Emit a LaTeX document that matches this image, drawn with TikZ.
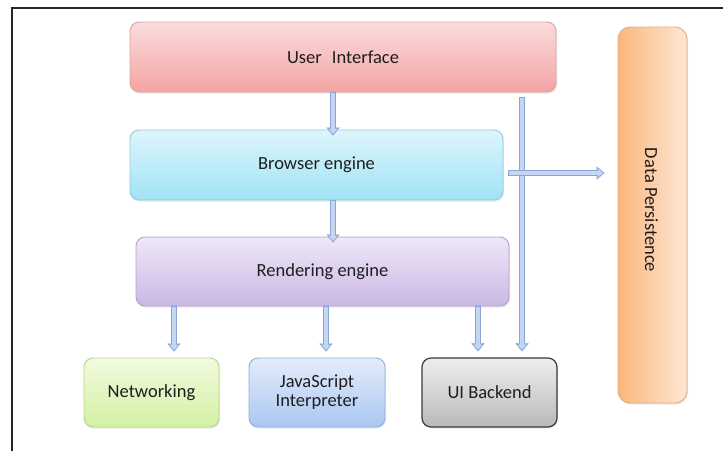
\documentclass[tikz,border=0pt]{standalone}
\usepackage{fontspec}
\setmainfont{Carlito}
\usetikzlibrary{arrows.meta,shadows}
\definecolor{txt}{HTML}{1E1E1E}
\definecolor{arrowborder}{HTML}{88A5D6}
\definecolor{arrowfill}{HTML}{C4D6F2}
\definecolor{uiT}{HTML}{FBDCDC}\definecolor{uiB}{HTML}{F4A3A3}\definecolor{uiD}{HTML}{DFA5A5}
\definecolor{beT}{HTML}{DDF5FC}\definecolor{beB}{HTML}{A0E3F6}\definecolor{beD}{HTML}{98C8DD}
\definecolor{reT}{HTML}{EFE8F7}\definecolor{reB}{HTML}{CAB7E5}\definecolor{reD}{HTML}{B3A1CF}
\definecolor{neT}{HTML}{F2FBDF}\definecolor{neB}{HTML}{D3F0A4}\definecolor{neD}{HTML}{BBD38B}
\definecolor{jsT}{HTML}{E4ECFB}\definecolor{jsB}{HTML}{AAC7F1}\definecolor{jsD}{HTML}{8EAFDD}
\definecolor{ubT}{HTML}{EEEEEE}\definecolor{ubB}{HTML}{B9B9B9}\definecolor{ubD}{HTML}{3A3A3A}
\definecolor{dpL}{HTML}{FBB67C}\definecolor{dpR}{HTML}{FDE7D5}\definecolor{dpD}{HTML}{E0AE86}
\tikzset{
  box/.style={rounded corners=9pt, draw, line width=0.9pt, text=txt, align=center,
    font=\fontsize{18.5}{20}\selectfont, inner sep=0pt,
    drop shadow={opacity=0.18, shadow xshift=1pt, shadow yshift=-1.5pt}},
  fatout/.style={draw=arrowborder, line width=6.4pt,
    -{Triangle[length=8pt,width=13pt,line width=0.1pt]}},
  fatin/.style={draw=arrowfill, line width=3.6pt, shorten >=1.6pt, shorten <=0.4pt,
    -{Triangle[length=5.2pt,width=8.8pt,line width=0.1pt]}},
}
\newcommand{\fatarrow}[2]{%
  \draw[fatout] (#1) -- (#2);
  \draw[fatin] (#1) -- (#2);}
\begin{document}
\begin{tikzpicture}[x=1pt,y=-1pt]
\useasboundingbox (0,0) rectangle (723,451);
\fill[white] (0,0) rectangle (723,451);
\draw[line width=1.4pt, color=black!85] (12,451) -- (12,8) -- (723,8);

\node[box, draw=uiD, top color=uiT, bottom color=uiB, minimum width=426pt, minimum height=70pt]
  (UI) at (343,57) {User\hspace{0.55em}Interface};
\node[box, draw=beD, top color=beT, bottom color=beB, minimum width=373pt, minimum height=70pt]
  (BE) at (316.5,165) {Browser engine};
\node[box, draw=reD, top color=reT, bottom color=reB, minimum width=373pt, minimum height=69pt]
  (RE) at (322.5,271.5) {Rendering engine};
\node[box, draw=neD, top color=neT, bottom color=neB, minimum width=135pt, minimum height=69pt]
  (NET) at (151.5,392.5) {Networking};
\node[box, draw=jsD, top color=jsT, bottom color=jsB, minimum width=136pt, minimum height=69pt]
  (JS) at (317,392.5) {JavaScript\\[-1pt]Interpreter};
\node[box, draw=ubD, line width=1.2pt, top color=ubT, bottom color=ubB, minimum width=135pt, minimum height=69pt]
  (UB) at (489.5,392.5) {UI Backend};
\node[box, draw=dpD, left color=dpL, right color=dpR, minimum width=69pt, minimum height=376pt, rounded corners=12pt]
  (DP) at (652.5,215) {};
\node[text=txt, font=\fontsize{18.5}{20}\selectfont, rotate=-90] (DPT) at (651.5,210) {Data Persistence};

% connectors
\coordinate (a1) at ([xshift=-10pt]UI.south);
\coordinate (a2) at ([xshift=16.5pt,yshift=-6pt]BE.north);
\fatarrow{a1}{a2}
\coordinate (b1) at ([xshift=16.5pt]BE.south);
\coordinate (b2) at ([xshift=10.5pt,yshift=-6pt]RE.north);
\fatarrow{b1}{b2}
\coordinate (c1) at ([xshift=-148.5pt]RE.south);
\coordinate (c2) at ([xshift=22.5pt,yshift=6pt]NET.north);
\fatarrow{c1}{c2}
\coordinate (d1) at ([xshift=3.5pt]RE.south);
\coordinate (d2) at ([xshift=9pt,yshift=6pt]JS.north);
\fatarrow{d1}{d2}
\coordinate (e1) at ([xshift=155.5pt]RE.south);
\coordinate (e2) at ([xshift=-11.5pt,yshift=6pt]UB.north);
\fatarrow{e1}{e2}
\coordinate (f1) at ([xshift=179pt,yshift=-5pt]UI.south);
\coordinate (f2) at ([xshift=32.5pt,yshift=6pt]UB.north);
\fatarrow{f1}{f2}
\coordinate (g1) at ([xshift=5pt,yshift=-8pt]BE.east);
\coordinate (g2) at ([xshift=-13pt]DP.west |- g1);
\fatarrow{g1}{g2}
\end{tikzpicture}
\end{document}
